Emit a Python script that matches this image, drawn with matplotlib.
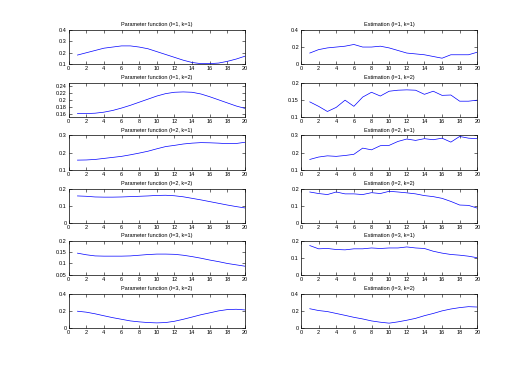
import matplotlib
matplotlib.use('Agg')
import matplotlib.pyplot as plt
import numpy as np

x = np.arange(1, 21)

# parameter functions (left column)
param_11 = [0.18, 0.20, 0.22, 0.24, 0.25, 0.26, 0.26, 0.25, 0.235, 0.21,
            0.185, 0.16, 0.135, 0.115, 0.105, 0.105, 0.11, 0.125, 0.145, 0.17]
param_12 = [0.16, 0.16, 0.161, 0.164, 0.169, 0.176, 0.184, 0.193, 0.202, 0.211,
            0.218, 0.222, 0.223, 0.222, 0.217, 0.209, 0.200, 0.191, 0.182, 0.175]
param_21 = [0.156, 0.157, 0.16, 0.166, 0.172, 0.178, 0.187, 0.197, 0.208, 0.222,
            0.235, 0.242, 0.25, 0.255, 0.258, 0.257, 0.255, 0.252, 0.253, 0.26]
param_22 = [0.157, 0.155, 0.151, 0.15, 0.15, 0.151, 0.153, 0.155, 0.157, 0.16,
            0.161, 0.158, 0.152, 0.143, 0.134, 0.124, 0.114, 0.104, 0.095, 0.087]
param_31 = [0.145, 0.138, 0.133, 0.132, 0.132, 0.132, 0.133, 0.136, 0.139, 0.141,
            0.141, 0.140, 0.136, 0.13, 0.123, 0.115, 0.108, 0.10, 0.094, 0.088]
param_32 = [0.196, 0.185, 0.166, 0.143, 0.121, 0.102, 0.083, 0.072, 0.064, 0.06,
            0.064, 0.079, 0.102, 0.128, 0.155, 0.177, 0.2, 0.215, 0.219, 0.211]

# estimations (right column)
est_11 = [0.13, 0.17, 0.19, 0.20, 0.21, 0.23, 0.20, 0.20, 0.21, 0.19,
          0.16, 0.13, 0.12, 0.11, 0.09, 0.07, 0.11, 0.11, 0.11, 0.14]
est_12 = [0.144, 0.131, 0.116, 0.128, 0.149, 0.131, 0.158, 0.172, 0.161, 0.175,
          0.178, 0.179, 0.178, 0.166, 0.175, 0.163, 0.164, 0.146, 0.146, 0.149]
est_21 = [0.16, 0.174, 0.181, 0.178, 0.183, 0.19, 0.226, 0.216, 0.24, 0.242,
          0.265, 0.279, 0.271, 0.281, 0.275, 0.284, 0.261, 0.294, 0.284, 0.281]
est_22 = [0.18, 0.171, 0.165, 0.18, 0.169, 0.169, 0.165, 0.176, 0.171, 0.184,
          0.18, 0.175, 0.169, 0.159, 0.153, 0.143, 0.125, 0.104, 0.102, 0.086]
est_31 = [0.171, 0.152, 0.154, 0.148, 0.146, 0.152, 0.152, 0.157, 0.154, 0.157,
          0.157, 0.163, 0.157, 0.154, 0.138, 0.127, 0.119, 0.115, 0.109, 0.10]
est_32 = [0.225, 0.204, 0.192, 0.17, 0.148, 0.125, 0.106, 0.083, 0.068, 0.057,
          0.072, 0.091, 0.113, 0.144, 0.17, 0.2, 0.222, 0.238, 0.249, 0.245]

labels = ['l=1, k=1', 'l=1, k=2', 'l=2, k=1', 'l=2, k=2', 'l=3, k=1', 'l=3, k=2']
params = [param_11, param_12, param_21, param_22, param_31, param_32]
ests = [est_11, est_12, est_21, est_22, est_31, est_32]

# y limits and ticks per panel
left_ylim = [(0.1, 0.4), (0.15, 0.25), (0.1, 0.3), (0, 0.2), (0.05, 0.2), (0, 0.4)]
left_yticks = [[0.1, 0.2, 0.3, 0.4], [0.16, 0.18, 0.2, 0.22, 0.24], [0.1, 0.2, 0.3],
               [0, 0.1, 0.2], [0.05, 0.1, 0.15, 0.2], [0, 0.2, 0.4]]
right_ylim = [(0, 0.4), (0.1, 0.2), (0.1, 0.3), (0, 0.2), (0, 0.2), (0, 0.4)]
right_yticks = [[0, 0.2, 0.4], [0.1, 0.15, 0.2], [0.1, 0.2, 0.3],
                [0, 0.1, 0.2], [0, 0.1, 0.2], [0, 0.2, 0.4]]

plt.rcParams['font.family'] = ['Liberation Sans', 'DejaVu Sans']
fig = plt.figure(figsize=(5.28, 3.69), dpi=100)

fs = 4
col_left = [0.13, 0.57]
width = 0.334
height = 0.093
bottoms = [0.826, 0.683, 0.540, 0.396, 0.255, 0.111]

def style(ax, ylim, yticks, title):
    ax.set_xlim(0, 20)
    ax.set_xticks(np.arange(0, 21, 2))
    ax.set_ylim(*ylim)
    ax.set_yticks(yticks)
    ax.set_yticklabels(['%g' % t for t in yticks])
    ax.tick_params(direction='in', length=2, width=0.4, labelsize=fs,
                   top=True, right=True, pad=1.5)
    for s in ax.spines.values():
        s.set_linewidth(0.5)
    ax.set_title(title, fontsize=fs, pad=2.5)

for i in range(6):
    ax = fig.add_axes([col_left[0], bottoms[i], width, height])
    ax.plot(x, params[i], color='blue', lw=0.5)
    style(ax, left_ylim[i], left_yticks[i], 'Parameter function (%s)' % labels[i])

    ax = fig.add_axes([col_left[1], bottoms[i], width, height])
    ax.plot(x, ests[i], color='blue', lw=0.5)
    style(ax, right_ylim[i], right_yticks[i], 'Estimation (%s)' % labels[i])

fig.savefig('out.png', dpi=100)
